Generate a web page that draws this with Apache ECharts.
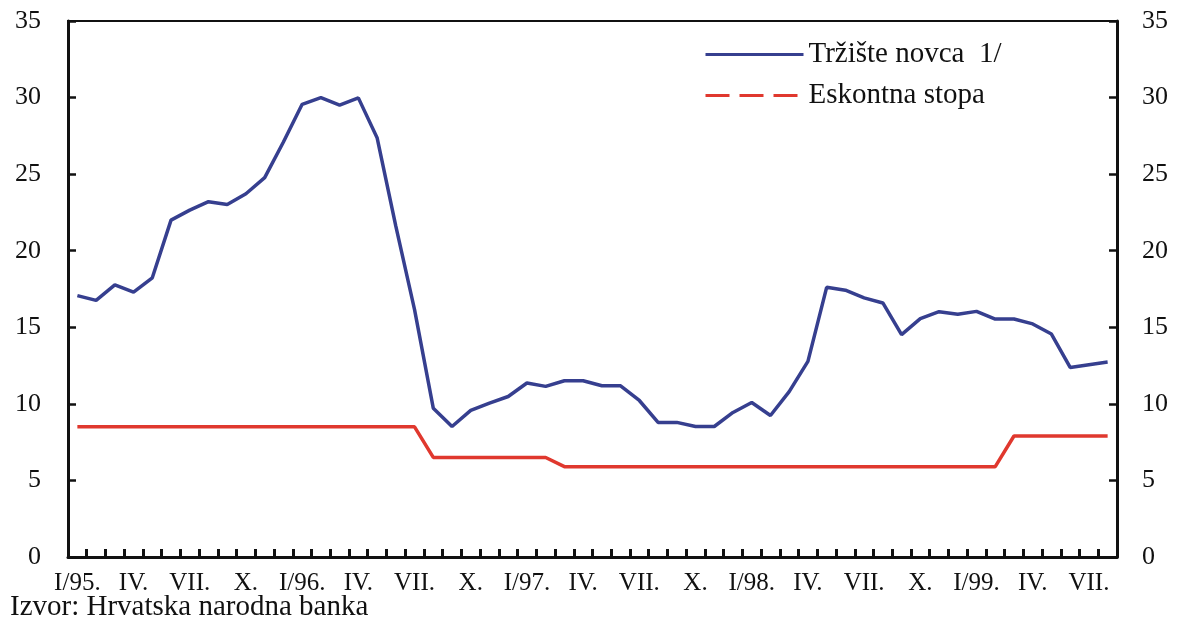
<!DOCTYPE html>
<html>
<head>
<meta charset="utf-8">
<script src="https://cdn.jsdelivr.net/npm/echarts@6/dist/echarts.min.js"></script>
<style>
html, body { margin: 0; padding: 0; background: #ffffff; }
#container { width: 1178px; height: 621px; }
</style>
</head>
<body>
<div id="container"></div>
<script type="text/javascript">
// months I/95 .. VIII/99
var months = [
  'I/95.', 'II.', 'III.', 'IV.', 'V.', 'VI.', 'VII.', 'VIII.', 'IX.', 'X.', 'XI.', 'XII.',
  'I/96.', 'II.', 'III.', 'IV.', 'V.', 'VI.', 'VII.', 'VIII.', 'IX.', 'X.', 'XI.', 'XII.',
  'I/97.', 'II.', 'III.', 'IV.', 'V.', 'VI.', 'VII.', 'VIII.', 'IX.', 'X.', 'XI.', 'XII.',
  'I/98.', 'II.', 'III.', 'IV.', 'V.', 'VI.', 'VII.', 'VIII.', 'IX.', 'X.', 'XI.', 'XII.',
  'I/99.', 'II.', 'III.', 'IV.', 'V.', 'VI.', 'VII.', 'VIII.'
];

var trzisteNovca = [
  17.07, 16.76, 17.77, 17.29, 18.23, 22.0, 22.65, 23.2, 23.02, 23.72, 24.77, 27.1,
  29.56, 30.0, 29.5, 29.98, 27.38, 21.6, 16.15, 9.72, 8.52, 9.57, 10.05, 10.48,
  11.36, 11.14, 11.51, 11.51, 11.18, 11.18, 10.22, 8.79, 8.79, 8.52, 8.52, 9.44,
  10.09, 9.24, 10.8, 12.77, 17.61, 17.42, 16.92, 16.59, 14.52, 15.57, 16.02, 15.85,
  16.04, 15.54, 15.54, 15.22, 14.56, 12.38, 12.56, 12.73
];

var eskontnaStopa = [
  8.5, 8.5, 8.5, 8.5, 8.5, 8.5, 8.5, 8.5, 8.5, 8.5, 8.5, 8.5,
  8.5, 8.5, 8.5, 8.5, 8.5, 8.5, 8.5, 6.5, 6.5, 6.5, 6.5, 6.5,
  6.5, 6.5, 5.9, 5.9, 5.9, 5.9, 5.9, 5.9, 5.9, 5.9, 5.9, 5.9,
  5.9, 5.9, 5.9, 5.9, 5.9, 5.9, 5.9, 5.9, 5.9, 5.9, 5.9, 5.9,
  5.9, 5.9, 7.9, 7.9, 7.9, 7.9, 7.9, 7.9
];

var seriesNames = ['Tržište novca  1/', 'Eskontna stopa'];
var yTicks = { min: 0, max: 35, interval: 5 };
var sourceText = 'Izvor: Hrvatska narodna banka';

var font = 'Liberation Serif';
var ink = '#111111';

var dom = document.getElementById('container');
var myChart = echarts.init(dom, null, { renderer: 'canvas' });

function yAxisFor(pos, margin) {
    return {
        type: 'value',
        position: pos,
        min: yTicks.min,
        max: yTicks.max,
        interval: yTicks.interval,
        axisLine: { show: true, lineStyle: { color: ink, width: 3 } },
        axisTick: { show: true, inside: true, length: 8, lineStyle: { color: ink, width: 2.5 } },
        axisLabel: { fontFamily: font, fontSize: 26, color: ink, margin: margin },
        splitLine: { show: false }
    };
}

var option = {
    animation: false,
    backgroundColor: '#ffffff',
    grid: {
        left: 68, right: 61, top: 21, bottom: 64,
        show: true, borderColor: ink, borderWidth: 2
    },
    legend: {
        orient: 'vertical',
        left: 699,
        top: 34,
        itemWidth: 98,
        itemHeight: 14,
        itemGap: 10,
        itemStyle: { opacity: 0 },
        lineStyle: { width: 3 },
        textStyle: { fontFamily: font, fontSize: 29, color: ink, lineHeight: 31 },
        data: [
            { name: seriesNames[0] },
            { name: seriesNames[1], lineStyle: { type: [24, 10], width: 3 } }
        ]
    },
    xAxis: {
        type: 'category',
        data: months,
        boundaryGap: true,
        axisLine: { show: true, lineStyle: { color: ink, width: 3 } },
        axisTick: { show: true, inside: true, interval: 0, length: 8, lineStyle: { color: ink, width: 3 } },
        axisLabel: { interval: 2, fontFamily: font, fontSize: 25, color: ink, margin: 14 }
    },
    yAxis: [yAxisFor('left', 27), yAxisFor('right', 25)],
    graphic: [{
        type: 'text',
        left: 10,
        top: 593,
        style: { text: sourceText, font: '29px "Liberation Serif"', fill: ink }
    }],
    series: [
        {
            name: seriesNames[0],
            type: 'line',
            data: trzisteNovca,
            symbol: 'none',
            color: '#363f8f',
            lineStyle: { width: 3.5, color: '#363f8f' }
        },
        {
            name: seriesNames[1],
            type: 'line',
            data: eskontnaStopa,
            symbol: 'none',
            color: '#e0382e',
            lineStyle: { width: 3.5, color: '#e0382e' }
        }
    ]
};

myChart.setOption(option, true);
</script>
</body>
</html>
